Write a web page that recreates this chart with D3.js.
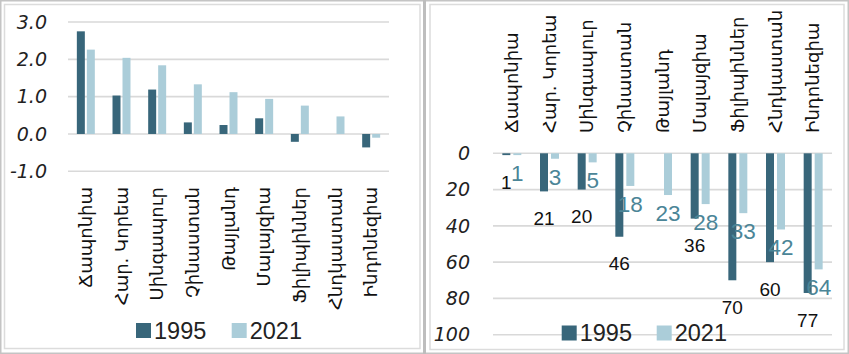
<!DOCTYPE html>
<html>
<head>
<meta charset="utf-8">
<script src="https://cdn.jsdelivr.net/npm/d3@7"></script>
<style>
  html, body { margin: 0; padding: 0; background: #fff; }
  svg { display: block; }
  .cat { font-family: "DejaVu Sans", sans-serif; font-size: 18px; fill: #111; }
  .tick { font-family: "DejaVu Sans", sans-serif; font-style: italic; font-size: 19px; fill: #222; }
  .leg { font-family: "Liberation Sans", Arial, sans-serif; font-size: 23.5px; fill: #222; }
  .val95 { font-family: "Liberation Sans", Arial, sans-serif; font-size: 19px; fill: #111; }
  .val21 { font-family: "Liberation Sans", Arial, sans-serif; font-size: 22.5px; fill: #4b8597; }
</style>
</head>
<body>
<svg id="chart" width="849" height="354"></svg>
<script>
// Countries (Armenian names)
const categories = ["Ճապոնիա", "Հար. Կորեա", "Սինգապուր", "Չինաստան", "Թայլանդ",
                    "Մալայզիա", "Ֆիլիպիններ", "Հնդկաստան", "Ինդոնեզիա"];
const series = ["1995", "2021"];

// Economic complexity index
const eci1995 = [2.75, 1.03, 1.19, 0.31, 0.24, 0.42, -0.21, 0.0, -0.36];
const eci2021 = [2.26, 2.04, 1.84, 1.33, 1.12, 0.94, 0.76, 0.47, -0.10];

// Ranking (no 1995 rank for Թայլանդ)
const rank1995 = [1, 21, 20, 46, null, 36, 70, 60, 77];
const rank2021 = [1, 3, 5, 18, 23, 28, 33, 42, 64];

// Axis ticks
const eciTicks = [-1, 0, 1, 2, 3];
const rankTicks = [0, 20, 40, 60, 80, 100];
</script>
<script>
const colors = { "1995": "#38667a", "2021": "#abcdd9" };
const svg = d3.select("#chart");

// Frames
svg.append("rect").attr("x", 0.5).attr("y", 0.5).attr("width", 848).attr("height", 353)
  .attr("fill", "none").attr("stroke", "#c4c4c4").attr("stroke-width", 2);
svg.append("line").attr("x1", 424.5).attr("x2", 424.5).attr("y1", 0).attr("y2", 354)
  .attr("stroke", "#bdbdbd").attr("stroke-width", 3);
svg.append("rect").attr("x", 4.5).attr("y", 4.5).attr("width", 415.5).attr("height", 344)
  .attr("fill", "none").attr("stroke", "#dcdcdc").attr("stroke-width", 1.5);
svg.append("rect").attr("x", 430).attr("y", 4.5).attr("width", 414).attr("height", 345)
  .attr("fill", "none").attr("stroke", "#dcdcdc").attr("stroke-width", 1.5);

function drawPanel(opt) {
  const g = svg.append("g");
  const x0 = d3.scaleBand().domain(categories).range(opt.xr).paddingInner(opt.pad).paddingOuter(opt.pad / 2);
  const x1 = d3.scaleBand().domain(series).range([0, x0.bandwidth()]).paddingInner(opt.subPad);
  const y = d3.scaleLinear().domain(opt.yd).range(opt.yr);

  // gridlines
  g.selectAll("line.grid").data(opt.ticks).join("line")
    .attr("x1", opt.xr[0]).attr("x2", opt.xr[1])
    .attr("y1", d => y(d)).attr("y2", d => y(d))
    .attr("stroke", "#d9d9d9").attr("stroke-width", 1.6);

  // tick labels
  g.selectAll("text.tick").data(opt.ticks).join("text")
    .attr("class", "tick")
    .attr("x", opt.tickX).attr("y", d => y(d)).attr("dy", "0.35em")
    .attr("text-anchor", "end")
    .text(opt.fmt);

  // bars
  const rows = categories.map((c, i) => ({ c, i, v: { "1995": opt.v95[i], "2021": opt.v21[i] } }));
  const grp = g.selectAll("g.cat").data(rows).join("g")
    .attr("transform", d => `translate(${x0(d.c)},0)`);
  grp.selectAll("rect")
    .data(d => series.filter(s => d.v[s] != null).map(s => ({ s, v: d.v[s] })))
    .join("rect")
    .attr("x", d => x1(d.s)).attr("width", x1.bandwidth())
    .attr("y", d => Math.min(y(d.v), y(opt.base)))
    .attr("height", d => Math.abs(y(d.v) - y(opt.base)))
    .attr("fill", d => colors[d.s]);

  // category labels (rotated)
  g.selectAll("text.cat").data(categories).join("text")
    .attr("class", "cat")
    .attr("transform", d => `translate(${x0(d) + x0.bandwidth() / 2},${opt.labY}) rotate(-90)`)
    .attr("dy", "0.35em")
    .attr("text-anchor", opt.labAnchor)
    .text(d => d);

  // legend
  const leg = g.selectAll("g.leg").data(series).join("g")
    .attr("transform", (d, i) => `translate(${opt.legX[i]},${opt.legY})`);
  leg.append("rect").attr("x", 0).attr("y", -7.5).attr("width", 15).attr("height", 15)
    .attr("fill", d => colors[d]);
  leg.append("text").attr("class", "leg").attr("x", 18).attr("dy", "0.36em").text(d => d);

  return { x0, x1, y, rows };
}

// Left panel: index values
drawPanel({
  xr: [68, 389], pad: 0.496, subPad: 0.2,
  yd: [-1, 3], yr: [171.3, 22], ticks: eciTicks, tickX: 47,
  fmt: d => d3.format(".1f")(d).replace("−", "-"),
  v95: eci1995, v21: eci2021, base: 0,
  labY: 187, labAnchor: "end",
  legX: [136, 231.7], legY: 330.5
});

// Right panel: ranking (axis reversed, 0 at the top)
const r = drawPanel({
  xr: [493, 832], pad: 0.496, subPad: 0.2727,
  yd: [0, 100], yr: [153.3, 334.7], ticks: rankTicks, tickX: 470,
  fmt: d => String(d),
  v95: rank1995, v21: rank2021, base: 0,
  labY: 133, labAnchor: "start",
  legX: [561.7, 656.7], legY: 333
});

// value labels under the bar ends
const lab = svg.append("g");
const labelSpec = [
  { s: "1995", vals: rank1995, cls: "val95", off: 27 },
  { s: "2021", vals: rank2021, cls: "val21", off: 18 }
];
labelSpec.forEach(spec => {
  lab.selectAll(null)
    .data(categories.map((c, i) => ({ c, v: spec.vals[i] })).filter(d => d.v != null))
    .join("text")
    .attr("class", spec.cls)
    .attr("x", d => r.x0(d.c) + r.x1(spec.s) + r.x1.bandwidth() / 2)
    .attr("y", d => r.y(d.v) + spec.off).attr("dy", "0.35em")
    .attr("text-anchor", "middle")
    .text(d => d.v);
});
</script>
</body>
</html>
